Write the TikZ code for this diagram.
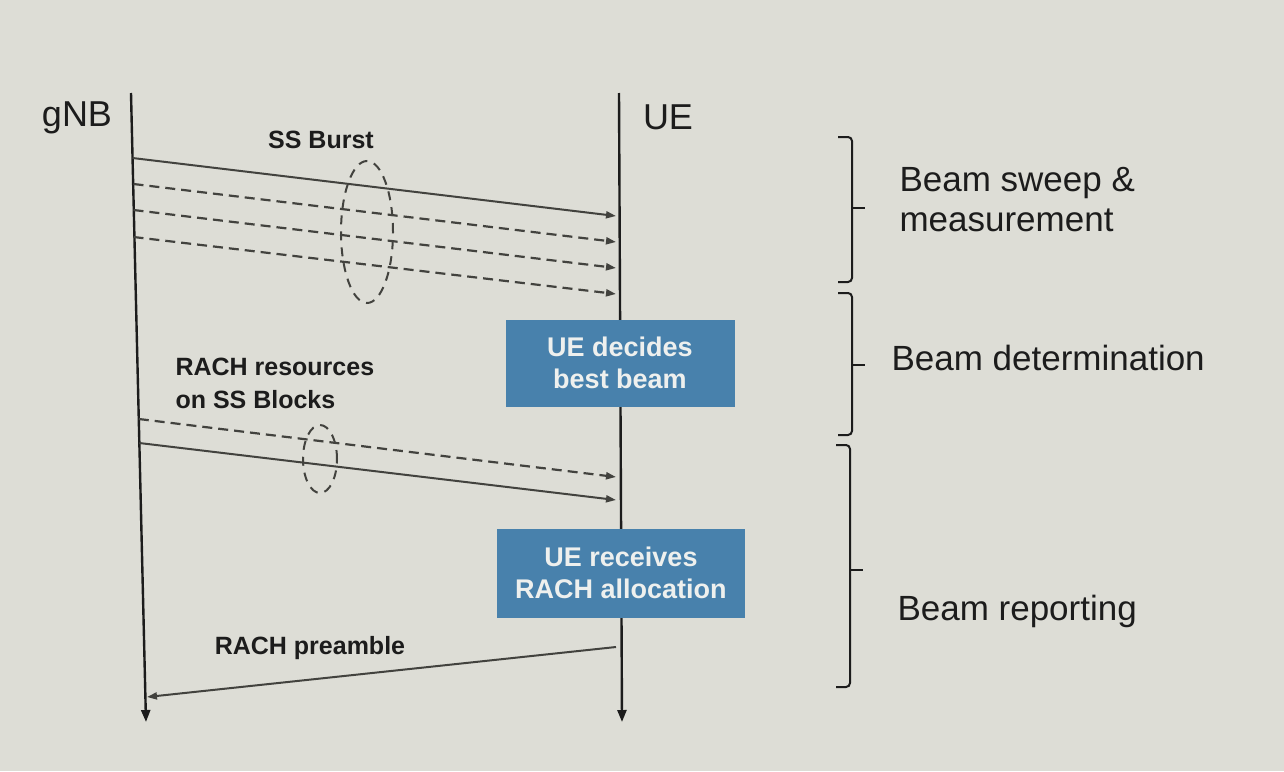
\documentclass[tikz,border=0pt]{standalone}
\usepackage{fontspec}
\setmainfont{Liberation Sans}
\usetikzlibrary{arrows.meta, calc, positioning}

\definecolor{screen}{RGB}{221,221,214}
\definecolor{ink}{RGB}{28,28,28}
\definecolor{msg}{RGB}{66,66,62}
\definecolor{boxblue}{RGB}{72,129,172}
\definecolor{boxtext}{RGB}{238,240,238}

\begin{document}
\begin{tikzpicture}[
  x=1pt, y=-1pt,
  >={Triangle[length=10pt, width=7pt]},
  lifeline/.style={draw=ink, line width=2.4pt, -{Triangle[length=12pt, width=9pt]}},
  msgline/.style={draw=msg, line width=2pt, ->},
  msgdash/.style={msgline, line width=2.2pt, dash pattern=on 10pt off 6pt},
  burst/.style={draw=msg, line width=2pt, dash pattern=on 9pt off 7pt},
  actor/.style={text=ink, font=\fontsize{36}{40}\selectfont},
  msglabel/.style={text=ink, font=\fontsize{25}{33}\selectfont\bfseries, align=left},
  stepbox/.style={fill=boxblue, text=boxtext, inner sep=0pt, align=center,
    font=\fontsize{27}{32}\selectfont\bfseries},
  phase/.style={text=ink, anchor=west, align=left, font=\fontsize{35}{40}\selectfont},
  bracket/.style={draw=ink, line width=2pt, rounded corners=4pt},
]
  \useasboundingbox (0,0) rectangle (1284,771);
  \fill[screen] (0,0) rectangle (1284,771);

  \node[actor] (gnb) at (77,118) {gNB};
  \node[actor] (ue) at (668,117) {UE};

  \coordinate (gtop) at (131,93);
  \coordinate (gbot) at (146,722);
  \coordinate (utop) at (619,93);
  \coordinate (ubot) at (622,722);
  \draw[lifeline] (gtop) -- (gbot);
  \draw[lifeline] (utop) -- (ubot);

  \node[msglabel] (burstlbl) at (321,140) {SS Burst};
  \coordinate (g0) at (132.5,158);
  \coordinate (u0) at (616,216);
  \draw[msgline] (g0) -- (u0);
  \foreach \idx/\ys/\ye in {1/184/242, 2/210/268, 3/237/294} {
    \coordinate (g\idx) at (133.5,\ys);
    \coordinate (u\idx) at (616,\ye);
    \draw[msgdash] (g\idx) -- (u\idx);
  }
  \draw[burst] (367,232) ellipse [x radius=26pt, y radius=71pt];

  \node[stepbox, minimum width=229pt, minimum height=87pt] (decide) at (620,363)
    {UE decides\\best beam};

  \node[msglabel, anchor=west] (rachlbl) at (172,383) {RACH resources\\on SS Blocks};
  \coordinate (g4) at (138.8,419);
  \coordinate (u4) at (616,477);
  \coordinate (g5) at (139.3,443);
  \coordinate (u5) at (616,500);
  \draw[msgdash] (g4) -- (u4);
  \draw[msgline] (g5) -- (u5);
  \draw[burst] (320,459) ellipse [x radius=17pt, y radius=34pt];

  \node[stepbox, minimum width=248pt, minimum height=89pt] (receive) at (621,573)
    {UE receives\\RACH allocation};

  \node[msglabel] (preamblelbl) at (310,648) {RACH preamble};
  \coordinate (u6) at (616,647);
  \coordinate (g6) at (147,697);
  \draw[msgline] (u6) -- (g6);

  \draw[bracket] (838,137) -- (852,137) -- (852,282) -- (838,282);
  \draw[bracket] (852,208) -- (865,208);
  \draw[bracket] (838,293) -- (852,293) -- (852,435) -- (838,435);
  \draw[bracket] (852,365) -- (865,365);
  \draw[bracket] (836,445) -- (850,445) -- (850,687) -- (836,687);
  \draw[bracket] (850,570) -- (863,570);

  \node[phase] (sweep) at (896,200) {Beam sweep \&\\measurement};
  \node[phase] (determ) at (888,358) {Beam determination};
  \node[phase] (report) at (894,611) {Beam reporting};
\end{tikzpicture}
\end{document}
